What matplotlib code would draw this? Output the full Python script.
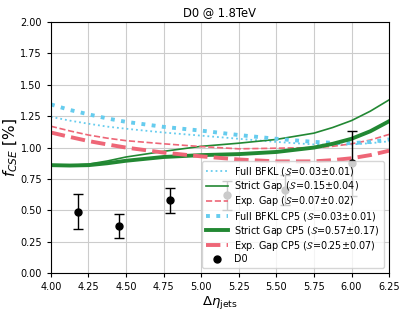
import numpy as np
import matplotlib
matplotlib.use("Agg")
import matplotlib.pyplot as plt

# curves
deta = [4.00, 4.125, 4.25, 4.375, 4.50, 4.75, 5.00, 5.25, 5.50, 5.75, 5.875, 6.00, 6.125, 6.25]
full_bfkl = [1.245, 1.215, 1.19, 1.167, 1.15, 1.12, 1.095, 1.07, 1.045, 1.025, 1.022, 1.025, 1.035, 1.05]
strict_gap = [0.86, 0.858, 0.868, 0.893, 0.925, 0.97, 1.01, 1.035, 1.065, 1.115, 1.16, 1.215, 1.29, 1.38]
exp_gap = [1.17, 1.133, 1.10, 1.075, 1.055, 1.03, 1.008, 0.99, 0.995, 1.0, 1.01, 1.03, 1.06, 1.105]
full_bfkl_cp5 = [1.344, 1.30, 1.265, 1.232, 1.205, 1.165, 1.135, 1.10, 1.07, 1.045, 1.038, 1.035, 1.045, 1.065]
strict_gap_cp5 = [0.86, 0.857, 0.86, 0.875, 0.895, 0.925, 0.94, 0.948, 0.965, 1.0, 1.03, 1.07, 1.13, 1.21]
exp_gap_cp5 = [1.12, 1.085, 1.052, 1.025, 1.0, 0.96, 0.93, 0.905, 0.89, 0.89, 0.90, 0.915, 0.94, 0.975]

# D0 measurement
d0_x = [4.18, 4.45, 4.79, 5.17, 5.56, 6.00]
d0_y = [0.49, 0.375, 0.58, 0.62, 0.665, 0.875]
d0_err = [0.14, 0.095, 0.10, 0.115, 0.12, 0.26]

cyan = "#66CCEE"
green = "#228833"
red = "#EE6677"

fig = plt.figure(figsize=(4.07, 3.15), dpi=100)
ax = fig.add_axes([0.125, 0.133, 0.831, 0.797])

ax.plot(deta, full_bfkl, ls=":", color=cyan, lw=1.3, label=r"Full BFKL ($\mathcal{S}$=0.03$\pm$0.01)")
ax.plot(deta, strict_gap, ls="-", color=green, lw=1.2, label=r"Strict Gap ($\mathcal{S}$=0.15$\pm$0.04)")
ax.plot(deta, exp_gap, ls="--", color=red, lw=1.2, label=r"Exp. Gap ($\mathcal{S}$=0.07$\pm$0.02)")
ax.plot(deta, full_bfkl_cp5, ls=":", color=cyan, lw=2.8, label=r"Full BFKL CP5 ($\mathcal{S}$=0.03$\pm$0.01)")
ax.plot(deta, strict_gap_cp5, ls="-", color=green, lw=2.8, label=r"Strict Gap CP5 ($\mathcal{S}$=0.57$\pm$0.17)")
ax.plot(deta, exp_gap_cp5, ls="--", color=red, lw=2.8, label=r"Exp. Gap CP5 ($\mathcal{S}$=0.25$\pm$0.07)")
ax.errorbar(d0_x, d0_y, yerr=d0_err, fmt="none", ecolor="black", capsize=3.5, elinewidth=1)
ax.plot(d0_x, d0_y, "o", color="black", ms=5, ls="none", label="D0")

ax.set_xlim(4.0, 6.25)
ax.set_ylim(0.0, 2.0)
ax.set_xticks(np.arange(4.0, 6.26, 0.25))
ax.set_yticks(np.arange(0.0, 2.01, 0.25))
ax.xaxis.set_major_formatter(matplotlib.ticker.FormatStrFormatter("%.2f"))
ax.yaxis.set_major_formatter(matplotlib.ticker.FormatStrFormatter("%.2f"))
ax.tick_params(labelsize=7, length=3)
ax.grid(True, color="#cccccc", lw=0.8)
ax.set_axisbelow(True)

ax.set_title("D0 @ 1.8TeV", fontsize=8.3, pad=4)
ax.set_xlabel(r"$\Delta\eta_{\rm jets}$", fontsize=9.5, labelpad=1)
ax.set_ylabel(r"$f_{CSE}$ [%]", fontsize=11, labelpad=0)

ax.legend(loc="lower right", fontsize=6.9, labelspacing=0.12, handlelength=2.3,
          borderpad=0.45, handletextpad=0.6)

fig.savefig("out.png", dpi=100)
